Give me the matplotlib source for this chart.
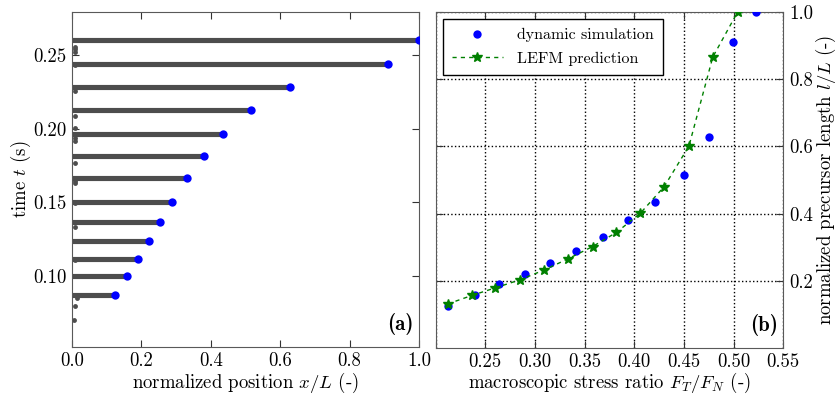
import numpy as np
import matplotlib
matplotlib.use("Agg")
import matplotlib.pyplot as plt

plt.rcParams['font.family'] = 'serif'
plt.rcParams['font.serif'] = ['cmr10']
plt.rcParams['mathtext.fontset'] = 'cm'
plt.rcParams['axes.formatter.use_mathtext'] = True
plt.rcParams['axes.unicode_minus'] = False
plt.rcParams['font.size'] = 13.5

# front tips: normalized position and time of arrest
tip_x = [0.125, 0.159, 0.190, 0.221, 0.254, 0.289, 0.330, 0.380, 0.435, 0.515, 0.629, 0.910, 1.0]
tip_t = [0.0874, 0.1000, 0.1113, 0.1236, 0.1365, 0.1505, 0.1667, 0.1811, 0.1964, 0.2124, 0.2279, 0.2437, 0.2597]

# stray nucleation points close to the left edge
nuc_x = [0.005, 0.0095, 0.0135, 0.008, 0.008, 0.008, 0.008, 0.008, 0.008, 0.008, 0.008,
         0.008, 0.008, 0.008, 0.008, 0.008, 0.008, 0.008]
nuc_t = [0.070, 0.0797, 0.0851, 0.1110, 0.1331, 0.1493, 0.1633, 0.1644, 0.1768, 0.1914,
         0.1937, 0.2005, 0.2083, 0.2252, 0.2432, 0.2522, 0.2556, 0.2540]

# precursor length vs stress ratio
sim_ratio = [0.212, 0.240, 0.264, 0.290, 0.315, 0.341, 0.368, 0.394, 0.421, 0.450, 0.475, 0.499, 0.523]
sim_len = [0.125, 0.159, 0.190, 0.221, 0.254, 0.289, 0.330, 0.380, 0.435, 0.515, 0.629, 0.910, 1.0]
lefm_ratio = [0.212, 0.237, 0.260, 0.285, 0.309, 0.333, 0.358, 0.382, 0.406, 0.430, 0.455, 0.479, 0.504]
lefm_len = [0.131, 0.157, 0.179, 0.203, 0.232, 0.265, 0.302, 0.344, 0.401, 0.480, 0.601, 0.866, 1.0]

fig = plt.figure(figsize=(8.38, 3.94), dpi=100)
W, H = 838., 394.
ax1 = fig.add_axes([72 / W, (H - 347) / H, 347 / W, 335 / H])
ax2 = fig.add_axes([435.7 / W, (H - 348) / H, 347.6 / W, 336 / H])

gray = '#4d4d4d'
for x, t in zip(tip_x, tip_t):
    ax1.plot([0, x], [t, t], color=gray, lw=3.7, solid_capstyle='butt', zorder=2)
ax1.plot(nuc_x, nuc_t, 'o', color=gray, ms=3.5, mec='none', zorder=2)
ax1.plot(tip_x, tip_t, 'o', color='blue', ms=6, mec='none', zorder=3)
ax1.set_xlim(0, 1.0)
ax1.set_ylim(0.052, 0.279)
ax1.set_xticks([0.0, 0.2, 0.4, 0.6, 0.8, 1.0])
ax1.set_yticks([0.10, 0.15, 0.20, 0.25])
ax1.set_xticklabels(['0.0', '0.2', '0.4', '0.6', '0.8', '1.0'])
ax1.set_yticklabels(['0.10', '0.15', '0.20', '0.25'])
ax1.set_xlabel(r'normalized position $x/L$ (-)', va='center')
ax1.set_ylabel(r'time $t$ (s)', va='center')
ax1.xaxis.set_label_coords(0.5, (347 - 383) / 335.)
ax1.yaxis.set_label_coords((21 - 72) / 347., 0.5)
ax1.text(0.985, 0.035, '(a)', transform=ax1.transAxes, ha='right', va='bottom',
         fontfamily='cmb10', fontsize=15)

ax2.plot(sim_ratio, sim_len, 'o', color='blue', ms=6, mec='none', label='dynamic simulation', zorder=3)
ax2.plot(lefm_ratio, lefm_len, '--*', color='green', ms=7, lw=1, mec='green',
         dashes=(3, 3), label='LEFM prediction', zorder=4)
ax2.set_xlim(0.2, 0.55)
ax2.set_ylim(0.0, 1.0)
ax2.set_xticks([0.20, 0.25, 0.30, 0.35, 0.40, 0.45, 0.50, 0.55])
ax2.set_xticklabels(['', '0.25', '0.30', '0.35', '0.40', '0.45', '0.50', '0.55'])
ax2.set_yticks([0.2, 0.4, 0.6, 0.8, 1.0])
ax2.set_yticklabels(['0.2', '0.4', '0.6', '0.8', '1.0'])
ax2.yaxis.tick_right()
ax2.yaxis.set_label_position('right')
ax2.grid(True, color='black', linestyle=':', lw=1)
ax2.set_xlabel(r'macroscopic stress ratio $F_T/F_N$ (-)', va='center')
ax2.set_ylabel(r'normalized precursor length $l/L$ (-)', va='center', rotation=90)
ax2.xaxis.set_label_coords(0.5, (348 - 383) / 336.)
ax2.yaxis.set_label_coords((826 - 435.7) / 347.6, 0.5)
ax2.text(0.985, 0.035, '(b)', transform=ax2.transAxes, ha='right', va='bottom',
         fontfamily='cmb10', fontsize=15)
leg = ax2.legend(loc='upper left', numpoints=1, fontsize=11.5, fancybox=False,
                 borderaxespad=0.45, handlelength=3.2, handletextpad=0.9,
                 labelspacing=0.6, borderpad=0.55)
leg.get_frame().set_edgecolor('black')
leg.get_frame().set_alpha(1)

for ax in (ax1, ax2):
    for s in ax.spines.values():
        s.set_color('0.35')
    ax.tick_params(direction='in', top=True, bottom=True, left=True, right=True,
                   length=5, color='0.2', pad=4)

fig.savefig('out.png', dpi=100)
